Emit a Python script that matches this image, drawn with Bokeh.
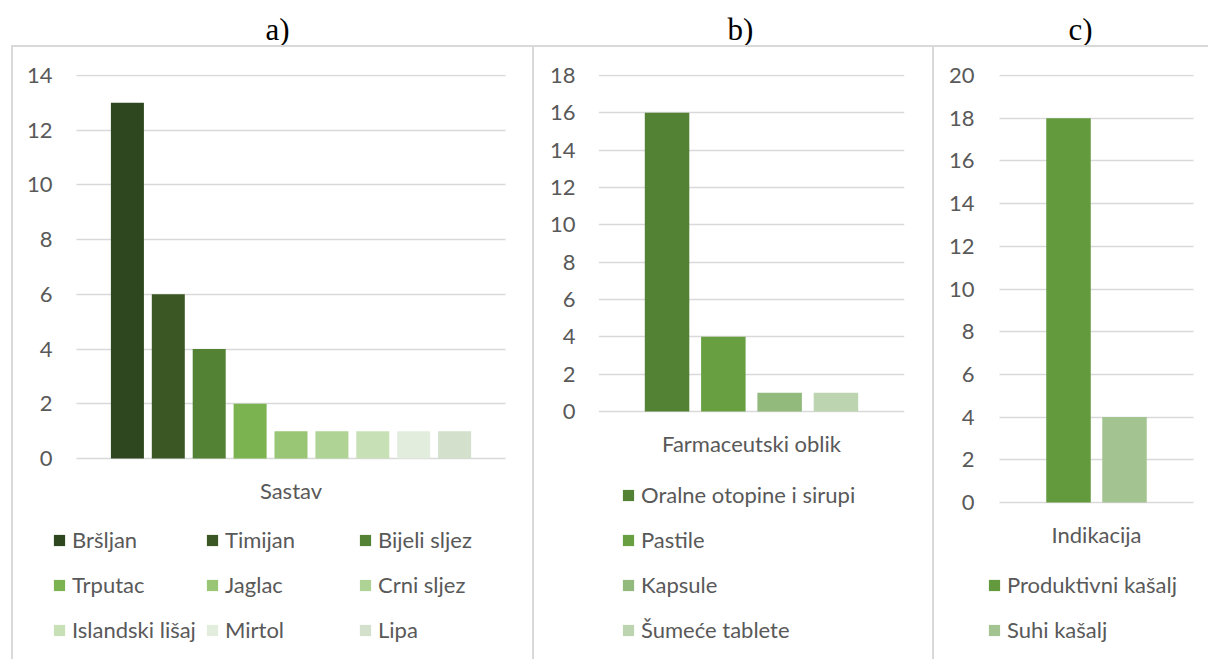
from bokeh.plotting import figure
from bokeh.models import (ColumnDataSource, FactorRange, Range1d, FixedTicker, Legend,
                          LegendItem, Title, Div, Label, Grid)
from bokeh.transform import dodge
from bokeh.embed import file_html
from bokeh.resources import INLINE

# ---------------- data ----------------
panel_titles = ["a)", "b)", "c)"]
category_labels = ["Sastav", "Farmaceutski oblik", "Indikacija"]

sastav_names = ["Bršljan", "Timijan", "Bijeli sljez", "Trputac", "Jaglac",
                "Crni sljez", "Islandski lišaj", "Mirtol", "Lipa"]
sastav_values = [13, 6, 4, 2, 1, 1, 1, 1, 1]

oblik_names = ["Oralne otopine i sirupi", "Pastile", "Kapsule", "Šumeće tablete"]
oblik_values = [16, 4, 1, 1]

indikacija_names = ["Produktivni kašalj", "Suhi kašalj"]
indikacija_values = [18, 4]

y_ticks_a = [0, 2, 4, 6, 8, 10, 12, 14]
y_ticks_b = [0, 2, 4, 6, 8, 10, 12, 14, 16, 18]
y_ticks_c = [0, 2, 4, 6, 8, 10, 12, 14, 16, 18, 20]

# ---------------- styles ----------------
colors_a = ["#2E471E", "#3B5824", "#548235", "#7AB34F", "#98C674",
            "#AED394", "#C8E0B5", "#E3EDDE", "#D3E0CC"]
colors_b = ["#548235", "#68A041", "#92BA7D", "#BCD5B0"]
colors_c = ["#649A3E", "#A3C490"]

TEXT = "#595959"
GRID = "#D9D9D9"
FONT = "Lato"
FSIZE = "22px"
SHIFT = 21                 # canvas is shifted up by this many px (room for title)
PAGE_H = 659
H = PAGE_H + SHIFT
TOP_TICK_Y = 75            # page y of the highest gridline
FRAME_TOP_PAGE = 74
HAS_CB = "cross_bounds" in Grid.properties()


def make_panel(title, category, names, values, colors, yticks, page_left, width,
               grid_left, grid_right, zero_y, label_right, legend_left,
               pitch_px, bar_px, title_x, ncols, label_width):
    # page-pixel layout
    if HAS_CB:
        frame_left = min(grid_left, legend_left)
    else:
        frame_left = grid_left
        legend_left = max(legend_left, grid_left)
    pad_px = grid_left - frame_left
    frame_right = grid_right + pad_px
    cat_px = grid_right - grid_left

    ymax = yticks[-1]
    ppu = (zero_y - TOP_TICK_Y) / ymax
    y_start = -(PAGE_H - zero_y) / ppu
    y_end = ymax + (TOP_TICK_Y - FRAME_TOP_PAGE) / ppu

    p = figure(width=width, height=H,
               x_range=FactorRange(category, range_padding=2 * pad_px / cat_px),
               y_range=Range1d(y_start, y_end), output_backend="svg",
               toolbar_location=None, x_axis_location=None,
               min_border_left=frame_left - page_left,
               min_border_right=width - (frame_right - page_left),
               min_border_top=FRAME_TOP_PAGE + SHIFT, min_border_bottom=0,
               styles={"float": "left", "margin-top": f"{-SHIFT}px"})
    p.title = Title(text=title, align="left", offset=title_x - frame_left,
                    text_font="Liberation Serif", text_font_size="31px",
                    text_font_style="normal", text_color="black", standoff=56)
    p.outline_line_color = None
    p.background_fill_color = "white"
    p.border_fill_color = "white"
    p.xgrid.grid_line_color = None
    p.xgrid.visible = False
    p.ygrid.grid_line_color = GRID
    p.ygrid.grid_line_width = 1.3
    if HAS_CB:
        p.ygrid.cross_bounds = (0, 1)
    p.yaxis.ticker = FixedTicker(ticks=yticks)
    p.yaxis.axis_line_color = None
    p.yaxis.major_tick_line_color = None
    p.yaxis.minor_tick_line_color = None
    p.yaxis.major_tick_out = 0
    p.yaxis.major_tick_in = 0
    p.yaxis.major_label_standoff = max(frame_left - label_right, 0)
    p.yaxis.major_label_text_font = FONT
    p.yaxis.major_label_text_font_size = FSIZE
    p.yaxis.major_label_text_color = TEXT

    n = len(names)
    items = []
    pitch = pitch_px / cat_px
    for i, (nm, v, c) in enumerate(zip(names, values, colors)):
        src = ColumnDataSource(dict(cat=[category], val=[v]))
        off = (i - (n - 1) / 2) * pitch
        r = p.vbar(x=dodge("cat", off, range=p.x_range), top="val", bottom=0,
                   width=bar_px / cat_px, source=src, fill_color=c, line_color=None)
        items.append(LegendItem(label=nm, renderers=[r]))

    # category name under the bars (Excel's single category label)
    p.add_layout(Label(x=0.5, y=0, y_offset=-32, text=category,
                       text_align="center", text_baseline="middle",
                       text_font=FONT, text_font_size=FSIZE, text_color=TEXT))

    leg = Legend(items=items, location=(legend_left - frame_left, 7), ncols=ncols,
                 orientation="horizontal" if ncols > 1 else "vertical",
                 glyph_width=14, glyph_height=14, label_standoff=6,
                 label_height=45, label_width=label_width, spacing=0,
                 padding=0, margin=0, border_line_color=None,
                 background_fill_alpha=0,
                 label_text_font=FONT, label_text_font_size=FSIZE,
                 label_text_color=TEXT)
    p.add_layout(leg, "center")
    return p


pa = make_panel(panel_titles[0], category_labels[0], sastav_names, sastav_values,
                colors_a, y_ticks_a, 0, 533, 76, 505, 458, 53, 52,
                40.9, 33, 265, 3, 133)
pb = make_panel(panel_titles[1], category_labels[1], oblik_names, oblik_values,
                colors_b, y_ticks_b, 533, 400, 598, 904, 411, 575, 621,
                56.3, 44.5, 727, 1, 20)
pc = make_panel(panel_titles[2], category_labels[2], indikacija_names, indikacija_values,
                colors_c, y_ticks_c, 933, 275, 999, 1193, 502, 974, 987,
                56, 44.5, 1068, 1, 20)


def line_div(left, top, w, h):
    return Div(text="", width=w, height=h, margin=0,
               styles={"position": "absolute", "left": f"{left}px", "top": f"{top}px",
                       "background-color": GRID})


borders = [line_div(11, 45, 1197, 2), line_div(11, 45, 2, 614),
           line_div(532, 45, 2, 614), line_div(932, 45, 2, 614)]

open("out.html", "w").write(file_html([pa, pb, pc] + borders, INLINE))
